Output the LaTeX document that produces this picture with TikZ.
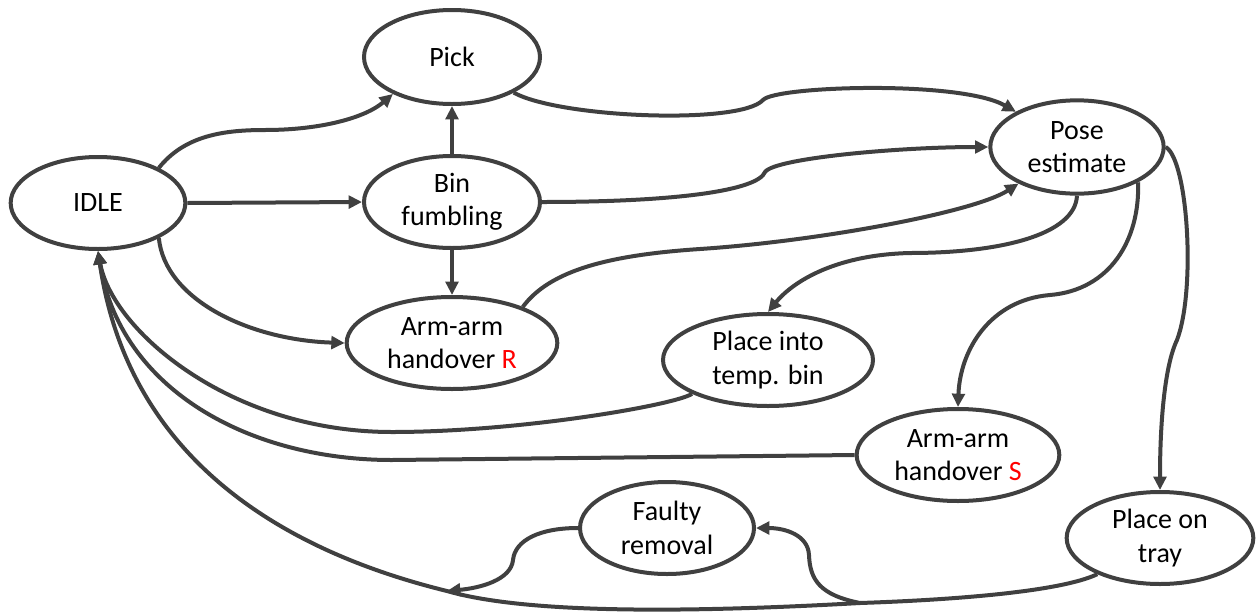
\documentclass[tikz,border=0pt]{standalone}
\usepackage{fontspec}
\setmainfont{Carlito}
\usetikzlibrary{shapes.geometric,arrows.meta}
\definecolor{lc}{HTML}{404040}
\begin{document}
\begin{tikzpicture}[x=0.75pt,y=-0.75pt,
  st/.style={ellipse,draw=lc,line width=3pt,inner sep=0pt,align=center,font=\fontsize{21}{25}\selectfont,minimum height=69pt},
  ed/.style={draw=lc,line width=3pt,-{Triangle[length=10pt,width=9.5pt]}}]
\useasboundingbox (0,0) rectangle (1258,615);
\node[st,minimum width=131pt] (idle) at (98,203) {IDLE};
\node[st,minimum width=132pt,minimum height=70.5pt] (pick) at (452,57) {Pick};
\node[st,minimum width=132pt] (bin) at (452,202) {Bin\\fumbling};
\node[st,minimum width=158pt] (armR) at (452,343) {Arm-arm\\handover {\color{red}R}};
\node[st,minimum width=130pt,minimum height=70pt] (pose) at (1077,147) {Pose\\estimate};
\node[st,minimum width=157.5pt] (temp) at (768,360) {Place into\\temp. bin};
\node[st,minimum width=152pt] (armS) at (958,455) {Arm-arm\\handover {\color{red}S}};
\node[st,minimum width=130.5pt] (faulty) at (667,528) {Faulty\\removal};
\node[st,minimum width=140pt] (tray) at (1160,538) {Place on\\tray};
\coordinate (jt) at (860,603);
\coordinate (jf) at (447,591);
\draw[ed] (idle.30) .. controls (185,135) and (225,130) .. (265,130) .. controls (320,130) and (365,118) .. (pick.212);
\draw[ed] (bin.north) -- (pick.south);
\draw[ed] (idle.east) -- (bin.west);
\draw[ed] (bin.south) -- (armR.north);
\draw[ed] (idle.330) .. controls (165,300) and (250,340) .. (armR.west);
\draw[ed] (pick.330) .. controls (560,118) and (740,125) .. (763,100) .. controls (775,86) and (960,80) .. (pose.150);
\draw[ed] (bin.east) .. controls (680,202) and (758,190) .. (765,172) .. controls (775,158) and (900,147) .. (pose.west);
\draw[ed] (armR.27) .. controls (550,270) and (610,255) .. (700,249) .. controls (820,241) and (975,212) .. (pose.212);
\draw[ed] (pose.south) .. controls (1075,235) and (1000,253) .. (910,253) .. controls (830,255) and (790,285) .. (temp.north);
\draw[ed] (pose.330) .. controls (1140,240) and (1110,290) .. (1050,295) .. controls (990,300) and (960,350) .. (armS.north);
\draw[ed] (pose.east) .. controls (1188,160) and (1196,290) .. (1177,340) .. controls (1165,365) and (1160,420) .. (tray.north);
\draw[ed] (temp.204) .. controls (675,405) and (520,432) .. (392,432) .. controls (230,432) and (112,330) .. (idle.south);
\draw[ed] (armS.west) -- (392,460) .. controls (250,460) and (120,390) .. (idle.south);
\draw[ed] (tray.210) .. controls (1060,592) and (950,600) .. (jt) .. controls (700,612) and (530,615) .. (jf) .. controls (300,555) and (130,470) .. (idle.south);
\draw[ed] (jt) .. controls (820,595) and (810,580) .. (809,555) .. controls (808,535) and (785,528) .. (faulty.east);
\draw[ed] (faulty.west) .. controls (540,528) and (515,540) .. (513,560) .. controls (511,580) and (480,588) .. (jf);
\end{tikzpicture}
\end{document}
